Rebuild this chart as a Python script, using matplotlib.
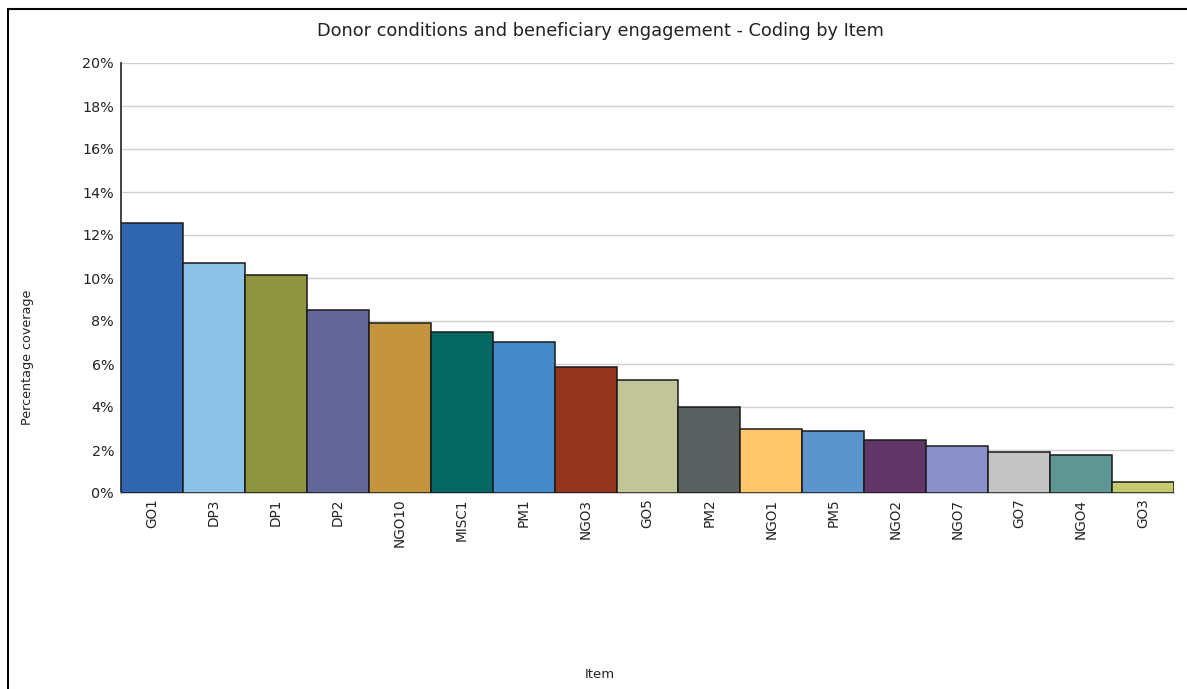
import matplotlib
matplotlib.use("Agg")
import matplotlib.pyplot as plt
from matplotlib.patches import Rectangle
from matplotlib.ticker import FuncFormatter, MultipleLocator

plt.rcParams['font.family'] = ['DejaVu Sans']

# Coding coverage per item (percent)
items = ["GO1", "DP3", "DP1", "DP2", "NGO10", "MISC1", "PM1", "NGO3", "GO5",
         "PM2", "NGO1", "PM5", "NGO2", "NGO7", "GO7", "NGO4", "GO3"]
coverage = [12.57, 10.71, 10.12, 8.51, 7.89, 7.47, 7.02, 5.88, 5.26,
            4.00, 2.98, 2.90, 2.47, 2.18, 1.93, 1.76, 0.49]
colors = ["#3066B0", "#8DC3E8", "#8F953F", "#636798", "#C5943F", "#056762",
          "#448ACA", "#95361F", "#C1C598", "#5A5F60", "#FFC66A", "#5B95CB",
          "#613565", "#8B90C8", "#C3C4C3", "#5E9694", "#C5CA6E"]

W, H = 1187, 689
fig = plt.figure(figsize=(W / 100, H / 100), dpi=100)
fig.patch.set_facecolor("white")

ax = fig.add_axes([121 / W, 1 - 493 / H, 1053 / W, 430 / H])

x = range(len(items))
ax.bar(x, coverage, width=1.0, color=colors, edgecolor="#1a1a1a",
       linewidth=1.1, zorder=3)

ax.set_xlim(-0.5, len(items) - 0.5)
ax.set_ylim(0, 20)
ax.yaxis.set_major_locator(MultipleLocator(2))
ax.yaxis.set_major_formatter(FuncFormatter(lambda v, _: f"{v:.0f}%"))
ax.grid(axis="y", color="#d0d0d0", linewidth=1.0, zorder=0)
ax.set_axisbelow(True)

ax.set_xticks(list(x))
ax.set_xticklabels(items, rotation=90, va="top", ha="center")
ax.tick_params(axis="x", length=0, pad=4, labelsize=9.8, labelcolor="#222222")
ax.tick_params(axis="y", length=0, pad=5, labelsize=10.3, labelcolor="#222222")

for side in ("top", "right"):
    ax.spines[side].set_visible(False)
ax.spines["left"].set_color("#333333")
ax.spines["left"].set_linewidth(1.3)
ax.spines["bottom"].set_color("#c8c8c8")
ax.spines["bottom"].set_linewidth(1.3)

fig.text(600 / W, 1 - 31 / H,
         "Donor conditions and beneficiary engagement - Coding by Item",
         ha="center", va="center", fontsize=12.8, color="#222222")
fig.text(28 / W, 1 - 357 / H, "Percentage coverage", rotation=90,
         ha="center", va="center", fontsize=9.2, color="#222222")
fig.text(600 / W, 1 - 674 / H, "Item", ha="center", va="center",
         fontsize=9.5, color="#222222")

# Outer frame of the chart panel
fig.patches.append(Rectangle((8 / W, -0.1), 1.2, 1.1 - 9 / H,
                             transform=fig.transFigure, fill=False,
                             edgecolor="black", linewidth=1.5))

fig.savefig("out.png", dpi=100, facecolor="white")
